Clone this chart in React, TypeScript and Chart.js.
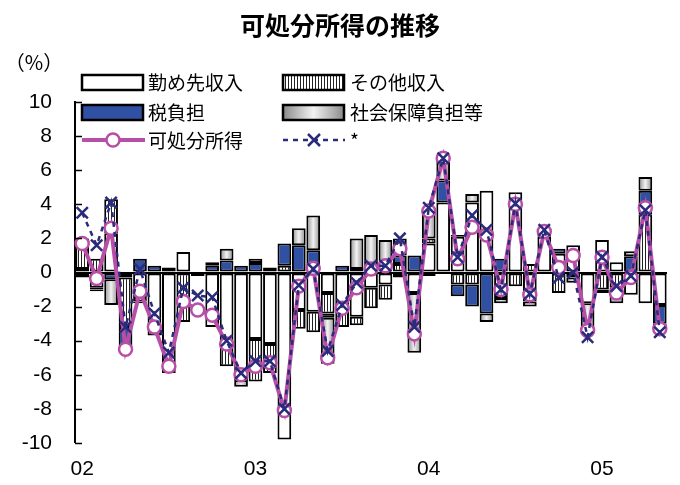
import React, { useEffect, useRef } from "react";
import { Chart, registerables } from "chart.js";
Chart.register(...registerables);

const months: string[] = [];
for (let y = 2002; y <= 2005; y++) {
  for (let m = 1; m <= 12; m++) {
    if (y === 2005 && m > 5) break;
    months.push(`${y}-${String(m).padStart(2, "0")}`);
  }
}
const yearTicks: Record<number, string> = { 0: "02", 12: "03", 24: "04", 36: "05" };

// 勤め先収入
const wageIncome = [0.2, -0.9, 2.3, -0.3, -1.3, -3.3, -5.3, 1.2, -0.2, -3.2, -4.1, -6.3, -3.9, -4.2, -9.8, -2.2, -2.3, -1.2, -1.9, -2.6, -0.9, -0.7, -0.3, -1.2, 1.7, 4.1, 2.1, 4.1, 4.8, -1.5, 4.7, -1.7, 2.1, 1.1, 1.6, -1.8, 1.9, 0.6, -1.3, -1.8, -1.9];
// その他収入
const otherIncome = [1.8, 0.8, 2.0, -2.9, -0.4, -0.4, -0.3, -2.9, 0, 0, -1.4, 0, -2.5, -1.7, 0.4, -1.1, -1.2, -1.2, -1.3, -0.5, -1.2, -0.9, 0.5, 0, 0.3, 0, -0.7, -0.7, 0, 0, -0.8, 0.5, 0, -1.2, -0.3, 0, -1.0, -0.9, 0, 3.4, 0];
// 税負担
const taxBurden = [0, -0.1, -0.4, -1.2, 0.8, 0.4, 0.3, 0, 0, 0.4, 0.7, 0.4, 0.55, 0, 1.3, 1.6, 1.3, -0.25, 0.4, 0.2, 0.1, 0, 0.5, 1.0, -0.2, 1.3, -0.7, -1.3, -2.4, 0.8, 0, 0, 0, 0.3, 0, 0, 0, 0, 0.95, 1.4, -1.1];
// 社会保障負担等
const socialBurden = [-0.3, -0.1, -1.5, -0.1, -0.1, 0, -0.3, 0, 0, 0.2, 0.7, -0.4, 0.25, 0.3, 0, 1.0, 2.05, -2.7, 0, 1.8, 2.1, 1.9, 1.0, -3.5, 1.8, 1.3, 0.1, 0.5, -0.5, -0.3, 0, -0.3, 0.3, 0, -0.3, -1.8, -0.2, -0.9, 0.3, 0.8, -0.3];
// 可処分所得
const disposable = [1.7, -0.35, 2.6, -4.5, -1.1, -3.2, -5.5, -1.7, -2.2, -2.5, -4.2, -6.0, -5.5, -5.3, -8.1, -0.8, 0.25, -5.0, -2.1, -0.9, 0.2, 0.4, 1.4, -3.6, 3.6, 6.7, 0.8, 2.65, 2.2, -1.0, 4.0, -1.3, 2.4, 0.3, 1.0, -3.4, 0.9, -1.2, -0.3, 3.8, -3.3];
// *
const starSeries = [3.5, 1.6, 4.1, -3.2, 0.2, -2.4, -4.7, -0.9, -1.35, -1.45, -4.0, -5.9, -5.2, -5.2, -8.0, -0.75, 0.2, -4.6, -1.9, -0.6, 0.4, 0.4, 2.0, -3.2, 3.8, 6.7, 0.9, 3.35, 2.5, -1.0, 4.05, -1.25, 2.5, -0.3, 0.0, -3.8, 0.9, -0.8, -0.2, 3.65, -3.5];

const yTicks = [10, 8, 6, 4, 2, 0, -2, -4, -6, -8, -10];

const MAGENTA = "#b84fa6";
const NAVY = "#2a2b7a";
const BLUE = "#2f50a3";
const JP = '"Noto Sans CJK JP", "Noto Sans", sans-serif';
const NUM = '"Liberation Sans", Arial, sans-serif';

function makeStripe(): CanvasPattern | string {
  const c = document.createElement("canvas");
  c.width = 3;
  c.height = 4;
  const g = c.getContext("2d");
  if (!g) return "#ddd";
  g.fillStyle = "#fff";
  g.fillRect(0, 0, 3, 4);
  g.fillStyle = "#222";
  g.fillRect(0, 0, 1, 4);
  const p = g.createPattern(c, "repeat");
  return p || "#ddd";
}

function grayGrad(ctx: CanvasRenderingContext2D, x0: number, x1: number) {
  const g = ctx.createLinearGradient(x0, 0, x1, 0);
  g.addColorStop(0, "#8a8a8a");
  g.addColorStop(0.5, "#f2f2f2");
  g.addColorStop(1, "#8a8a8a");
  return g;
}

export default function App() {
  const ref = useRef<HTMLCanvasElement | null>(null);
  useEffect(() => {
    document.body.style.margin = "0";
    if (!ref.current) return;
    const stripe = makeStripe();

    const decor = {
      id: "decor",
      afterDraw(chart: any) {
        const ctx: CanvasRenderingContext2D = chart.ctx;
        const ys = chart.scales.y;
        const area = chart.chartArea;
        ctx.save();
        ctx.strokeStyle = "#000";
        ctx.lineWidth = 1.5;
        for (const v of yTicks) {
          const py = Math.round(ys.getPixelForValue(v)) + 0.5;
          ctx.beginPath();
          ctx.moveTo(area.left, py);
          ctx.lineTo(area.left + 7, py);
          ctx.stroke();
        }
        ctx.fillStyle = "#000";
        ctx.textAlign = "center";
        ctx.textBaseline = "middle";
        ctx.font = `bold 25px ${JP}`;
        ctx.fillText("可処分所得の推移", 340, 25);
        ctx.font = `20px ${JP}`;
        ctx.fillText("（%）", 34, 62);

        const bw = 61, bh = 15;
        const col = [82, 283];
        const rows = [75, 105];
        const box = (x: number, y: number, fill: any) => {
          ctx.fillStyle = fill;
          ctx.fillRect(x, y, bw, bh);
          ctx.lineWidth = 2.5;
          ctx.strokeStyle = "#000";
          ctx.strokeRect(x, y, bw, bh);
        };
        box(col[0], rows[0], "#fff");
        box(col[1], rows[0], stripe);
        box(col[0], rows[1], BLUE);
        box(col[1], rows[1], grayGrad(ctx, col[1], col[1] + bw));
        const ly = 140;
        ctx.strokeStyle = MAGENTA;
        ctx.lineWidth = 4;
        ctx.beginPath();
        ctx.moveTo(col[0], ly);
        ctx.lineTo(col[0] + 63, ly);
        ctx.stroke();
        ctx.beginPath();
        ctx.arc(col[0] + 31, ly, 6.5, 0, Math.PI * 2);
        ctx.fillStyle = "#fff";
        ctx.fill();
        ctx.lineWidth = 2.5;
        ctx.stroke();
        ctx.strokeStyle = NAVY;
        ctx.lineWidth = 2.5;
        ctx.setLineDash([5, 5]);
        ctx.beginPath();
        ctx.moveTo(col[1], ly);
        ctx.lineTo(col[1] + 62, ly);
        ctx.stroke();
        ctx.setLineDash([]);
        const cx = col[1] + 31, r = 6;
        ctx.beginPath();
        ctx.moveTo(cx - r, ly - r);
        ctx.lineTo(cx + r, ly + r);
        ctx.moveTo(cx + r, ly - r);
        ctx.lineTo(cx - r, ly + r);
        ctx.stroke();

        ctx.fillStyle = "#000";
        ctx.textAlign = "left";
        ctx.textBaseline = "middle";
        ctx.font = `19px ${JP}`;
        ctx.fillText("勤め先収入", 148, 83);
        ctx.fillText("その他収入", 350, 83);
        ctx.fillText("税負担", 148, 113);
        ctx.fillText("社会保障負担等", 350, 113);
        ctx.fillText("可処分所得", 148, 141);
        ctx.fillText("*", 350, 141);
        ctx.restore();
      },
    };

    const barCommon = {
      type: "bar" as const,
      borderColor: "#000",
      borderWidth: 2,
      borderSkipped: false,
      stack: "s",
      order: 3,
      barPercentage: 0.95,
      categoryPercentage: 1.0,
    };

    const chart = new Chart(ref.current, {
      type: "bar",
      data: {
        labels: months,
        datasets: [
          { ...barCommon, label: "勤め先収入", data: wageIncome, backgroundColor: "#fff" },
          { ...barCommon, label: "その他収入", data: otherIncome, backgroundColor: stripe as any },
          { ...barCommon, label: "税負担", data: taxBurden, backgroundColor: BLUE },
          {
            ...barCommon,
            label: "社会保障負担等",
            data: socialBurden,
            backgroundColor: (c: any) => {
              const ch = c.chart;
              if (!ch.chartArea) return "#bbb";
              const x = ch.scales.x.getPixelForValue(c.dataIndex);
              return grayGrad(ch.ctx, x - 7, x + 7);
            },
          },
          {
            type: "line",
            label: "可処分所得",
            data: disposable,
            stack: "line1",
            borderColor: MAGENTA,
            borderWidth: 4,
            pointStyle: "circle",
            pointRadius: 6.5,
            pointBorderWidth: 2.5,
            pointBackgroundColor: "#fff",
            pointBorderColor: MAGENTA,
            order: 2,
            tension: 0,
          } as any,
          {
            type: "line",
            label: "*",
            data: starSeries,
            stack: "line2",
            borderColor: NAVY,
            borderWidth: 2.5,
            borderDash: [5, 5],
            pointStyle: "crossRot",
            pointRadius: 8,
            pointBorderWidth: 2.5,
            pointBorderColor: NAVY,
            order: 1,
            tension: 0,
          } as any,
        ],
      },
      options: {
        responsive: false,
        animation: false,
        layout: { padding: { top: 102, right: 13, left: 0, bottom: 0 } },
        plugins: { legend: { display: false }, title: { display: false }, tooltip: { enabled: false } },
        scales: {
          x: {
            stacked: true,
            offset: true,
            grid: { display: false, drawTicks: false },
            border: { display: false },
            ticks: {
              autoSkip: false,
              maxRotation: 0,
              padding: 14,
              color: "#000",
              font: { size: 21, family: NUM },
              callback: (_v: any, i: number) => yearTicks[i] ?? "",
            },
            afterFit: (s: any) => {
              s.height = 42;
            },
          },
          y: {
            stacked: true,
            min: -10,
            max: 10,
            grid: {
              drawTicks: false,
              color: (c: any) => (c.tick && c.tick.value === 0 ? "#000" : "rgba(0,0,0,0)"),
              lineWidth: (c: any) => (c.tick && c.tick.value === 0 ? 2 : 0),
            },
            border: { display: true, color: "#000", width: 2 },
            ticks: {
              stepSize: 2,
              padding: 23,
              color: "#000",
              font: { size: 21, family: NUM },
            },
            afterFit: (s: any) => {
              s.width = 75;
            },
          },
        },
      } as any,
      plugins: [decor],
    });
    return () => chart.destroy();
  }, []);
  return (
    <div style={{ width: 680, height: 485, position: "relative", background: "#fff" }}>
      <canvas ref={ref} width={680} height={485} />
    </div>
  );
}
